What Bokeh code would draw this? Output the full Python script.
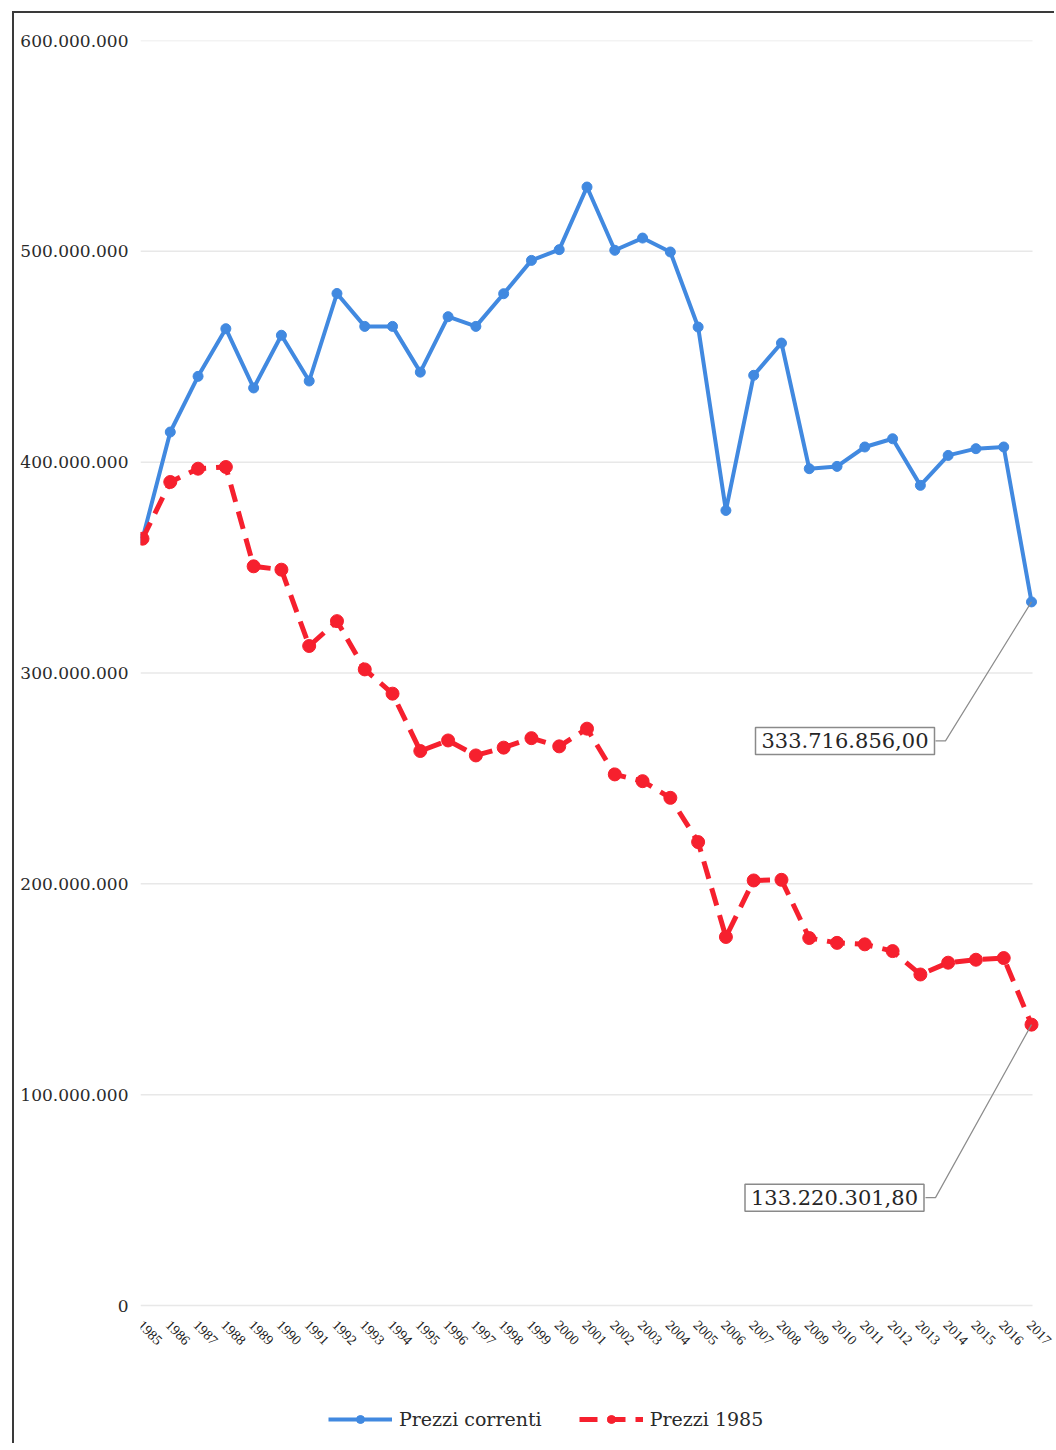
import math
from bokeh.plotting import figure
from bokeh.models import FixedTicker, Legend, LegendItem, Label, Range1d
from bokeh.embed import file_html
from bokeh.resources import INLINE

# ---------------- data ----------------
years = list(range(1985, 2018))
prezzi_correnti = [
    363.7e6, 414.3e6, 440.7e6, 463.3e6, 435.2e6, 460.2e6, 438.5e6, 480.0e6,
    464.4e6, 464.4e6, 442.7e6, 469.0e6, 464.4e6, 479.9e6, 495.7e6, 500.8e6,
    530.5e6, 500.5e6, 506.3e6, 499.7e6, 464.1e6, 377.1e6, 441.2e6, 456.5e6,
    396.9e6, 398.0e6, 407.2e6, 411.1e6, 389.0e6, 403.2e6, 406.4e6, 407.2e6,
    333716856.00,
]
prezzi_1985 = [
    363.7e6, 390.6e6, 396.9e6, 397.7e6, 350.6e6, 349.0e6, 312.8e6, 324.6e6,
    301.7e6, 290.2e6, 263.0e6, 268.0e6, 260.9e6, 264.6e6, 269.1e6, 265.2e6,
    273.6e6, 251.9e6, 248.7e6, 240.8e6, 219.8e6, 174.8e6, 201.6e6, 201.9e6,
    174.3e6, 172.0e6, 171.3e6, 168.1e6, 157.0e6, 162.6e6, 164.0e6, 164.8e6,
    133220301.80,
]
series_names = ["Prezzi correnti", "Prezzi 1985"]
y_ticks = [0, 100e6, 200e6, 300e6, 400e6, 500e6, 600e6]
y_tick_labels = ["0", "100.000.000", "200.000.000", "300.000.000",
                 "400.000.000", "500.000.000", "600.000.000"]
x_tick_labels = [str(y) for y in years]
callout_texts = ["333.716.856,00", "133.220.301,80"]

# ---------------- layout ----------------
W, H = 1042, 1432
FL, FT = 126, 27
PLOT_W, PLOT_H = 892, 1265          # area spanned by the 1985..2017 / 0..600M grid
FW = W - FL                         # frame extends to the right edge (room for labels)
FH = H - FT - 2                     # frame extends to the bottom (room for labels / legend)
PAD_L, PAD_R = 2, 1
px_per_year = (PLOT_W - PAD_L - PAD_R) / (years[-1] - years[0])
x0 = years[0] - PAD_L / px_per_year
x1 = x0 + FW / px_per_year
grid_x_end = years[-1] + PAD_R / px_per_year
px_per_val = PLOT_H / 600e6
y1 = 600e6
y0 = -(FH - PLOT_H) / px_per_val

BLUE = "#4189E0"
RED = "#F6202E"
SERIF = "DejaVu Serif"

p = figure(width=W, height=H, output_backend="svg", toolbar_location=None,
           x_range=Range1d(x0, x1), y_range=Range1d(y0, y1),
           min_border_left=FL, min_border_top=FT,
           min_border_right=W - FL - FW, min_border_bottom=H - FT - FH)
p.styles = {"margin-left": "12px", "margin-top": "11px",
            "border-left": "2px solid #3a3a3a", "border-top": "2px solid #3a3a3a"}
p.outline_line_color = None
p.background_fill_color = "white"
p.border_fill_color = "white"

p.xgrid.visible = False
p.ygrid.visible = False
p.xaxis.visible = False

# horizontal gridlines at the y ticks, spanning the category area only
p.segment(x0=[x0] * len(y_ticks), x1=[grid_x_end] * len(y_ticks),
          y0=y_ticks, y1=y_ticks, line_color="#e8e8e8", line_width=1.5)

ya = p.yaxis[0]
ya.ticker = FixedTicker(ticks=y_ticks)
ya.major_label_overrides = {t: s for t, s in zip(y_ticks, y_tick_labels)}
ya.major_label_text_font = SERIF
ya.major_label_text_font_size = "17px"
ya.major_label_text_color = "#2a2a2a"
ya.major_label_standoff = 12
ya.major_tick_out = 0
ya.major_tick_in = 0
ya.axis_line_color = None
ya.major_tick_line_color = None
ya.minor_tick_line_color = None

# rotated year labels under the zero line
p.text(x=years, y=[0] * len(years), text=x_tick_labels, angle=-math.pi / 4,
       text_align="left", text_baseline="middle", x_offset=-2, y_offset=17,
       text_font=SERIF, text_font_size="14px", text_color="#222222")

bl = p.line(years, prezzi_correnti, line_color=BLUE, line_width=4)
bs = p.scatter(years, prezzi_correnti, size=10, fill_color=BLUE, line_color=BLUE)
rl = p.line(years, prezzi_1985, line_color=RED, line_width=5, line_dash="18 10")
rs = p.scatter(years, prezzi_1985, size=13, fill_color=RED, line_color=RED)

# callouts (offsets in px from the last point)
callouts = [
    (prezzi_correnti[-1], callout_texts[0], -186.5, 139, -96, -86),
    (prezzi_1985[-1], callout_texts[1], -197, 173, -106, -96),
]
for val, txt, dx, dy, box_r, elbow in callouts:
    xs = [years[-1], years[-1] + elbow / px_per_year, years[-1] + box_r / px_per_year]
    ys = [val, val - dy / px_per_val, val - dy / px_per_val]
    p.line(xs, ys, line_color="#8c8c8c", line_width=1.2)
    p.add_layout(Label(x=years[-1], y=val, x_offset=dx, y_offset=-dy, text=txt,
                       text_font=SERIF, text_font_size="21px", text_color="#262626",
                       text_align="center", text_baseline="middle",
                       border_line_color="#8a8a8a", border_line_width=1.5,
                       background_fill_color="white", padding=6))

legend = Legend(items=[LegendItem(label=series_names[0], renderers=[bl, bs]),
                       LegendItem(label=series_names[1], renderers=[rl, rs])],
                orientation="horizontal",
                location=(188, (FH - PLOT_H) - 125),
                label_text_font=SERIF, label_text_font_size="19px",
                label_text_color="#2a2a2a", glyph_width=64, glyph_height=20,
                label_standoff=7, spacing=37, border_line_color=None,
                background_fill_alpha=0, margin=0, padding=0)
p.add_layout(legend)

open("out.html", "w").write(file_html(p, INLINE))
